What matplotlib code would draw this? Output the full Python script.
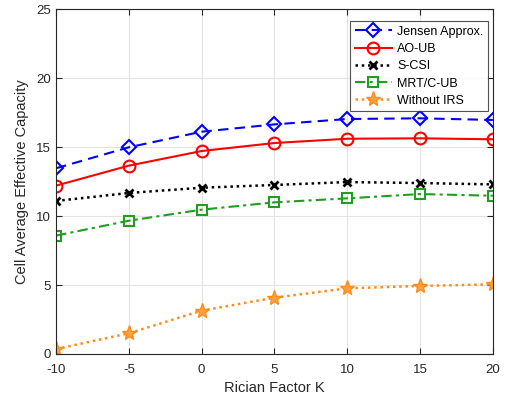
import matplotlib
matplotlib.use('Agg')
import matplotlib.pyplot as plt

plt.rcParams['font.family'] = ['Liberation Sans', 'DejaVu Sans']
plt.rcParams['axes.unicode_minus'] = False

k_factor = [-10, -5, 0, 5, 10, 15, 20]
jensen = [13.46, 14.98, 16.11, 16.64, 17.03, 17.08, 16.96]
ao_ub = [12.2, 13.65, 14.71, 15.29, 15.6, 15.63, 15.56]
s_csi = [11.09, 11.67, 12.05, 12.25, 12.46, 12.39, 12.29]
mrt_cub = [8.58, 9.66, 10.46, 10.99, 11.28, 11.59, 11.47]
no_irs = [0.36, 1.5, 3.14, 4.08, 4.76, 4.93, 5.05]

fig = plt.figure(figsize=(5.05, 4.03), dpi=100)
ax = fig.add_axes([0.111, 0.1216, 0.865, 0.856])

ax.plot(k_factor, jensen, color='#0000ff', ls=(0, (5, 3)), lw=1.5, marker='D',
        ms=6.8, mfc='none', mew=1.5, label='Jensen Approx.')
ax.plot(k_factor, ao_ub, color='#ff0000', ls='-', lw=1.5, marker='o',
        ms=8.5, mfc='none', mew=1.5, label='AO-UB')
ax.plot(k_factor, s_csi, color='black', ls=(0, (1, 1.5)), lw=1.8, marker='x',
        ms=6, mew=2, label='S-CSI')
ax.plot(k_factor, mrt_cub, color='#1f9e1f', ls=(0, (5, 2, 1.5, 2)), lw=1.5, marker='s',
        ms=7, mfc='none', mew=1.5, label='MRT/C-UB')
ax.plot(k_factor, no_irs, color='#ff8c1a', ls=(0, (1, 1.5)), lw=1.8, marker='*',
        ms=11, mfc='#ffa040', mec='#ff8c1a', mew=1, label='Without IRS')

ax.set_xlim(-10, 20)
ax.set_ylim(0, 25)
ax.set_xticks(k_factor)
ax.set_yticks([0, 5, 10, 15, 20, 25])
ax.grid(True, color='#e3e3e3', lw=0.8)
ax.set_axisbelow(True)
ax.tick_params(direction='in', length=4, labelsize=9.5, colors='#262626', top=True, right=True)
ax.tick_params(axis='x', pad=7)
for s in ax.spines.values():
    s.set_color('#262626')
    s.set_linewidth(0.8)

ax.set_xlabel('Rician Factor K', fontsize=10.5, color='#262626', labelpad=4)
ax.set_ylabel('Cell Average Effective Capacity', fontsize=10.5, color='#262626', labelpad=5)

leg = ax.legend(loc='upper right', bbox_to_anchor=(0.997, 0.975), fontsize=9,
                frameon=True, fancybox=False, edgecolor='#262626', handlelength=3.0,
                borderpad=0.35, labelspacing=0.42, handletextpad=0.4, borderaxespad=0.3)
leg.get_frame().set_linewidth(0.8)

fig.savefig('out.png', dpi=100)
